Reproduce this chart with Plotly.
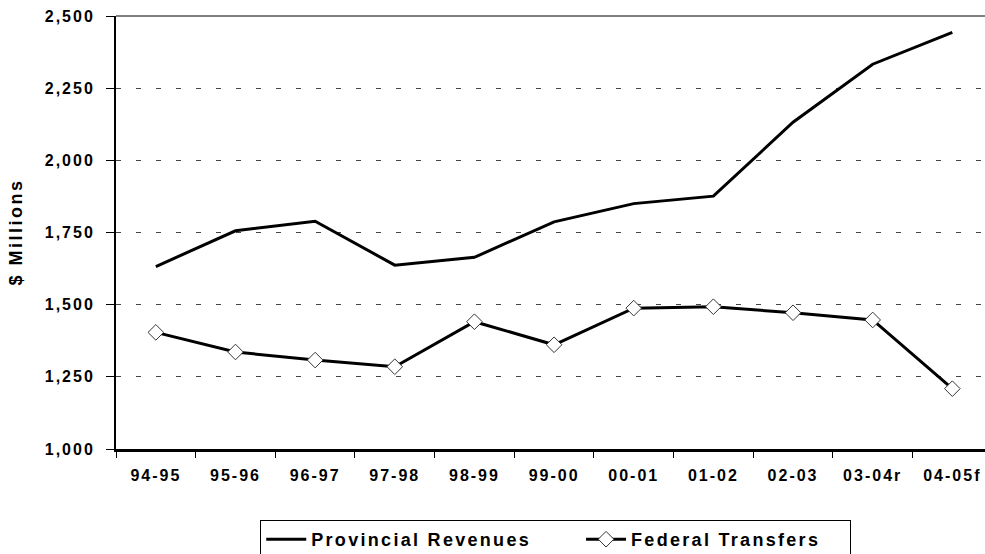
import plotly.graph_objects as go

# fiscal years on the x axis
years = ["94-95", "95-96", "96-97", "97-98", "98-99", "99-00",
         "00-01", "01-02", "02-03", "03-04r", "04-05f"]

# $ millions
provincial_revenues = [1632, 1756, 1789, 1637, 1664, 1787, 1850, 1876, 2132, 2333, 2443]
federal_transfers = [1404, 1336, 1308, 1285, 1441, 1361, 1488, 1493, 1472, 1447, 1209]

y_ticks = [1000, 1250, 1500, 1750, 2000, 2250, 2500]

FONT = "Liberation Sans, Arial, sans-serif"


def spaced(txt, px):
    # Excel-style expanded character spacing
    return '<span style="letter-spacing:%spx">%s</span>' % (px, txt)


fig = go.Figure()

# trailing no-break spaces give the wider gap between the two legend entries
fig.add_trace(go.Scatter(x=years, y=provincial_revenues, mode="lines",
                         name=spaced("Provincial Revenues", 2.3) + "&nbsp;" * 9,
                         line=dict(color="black", width=3)))

fig.add_trace(go.Scatter(x=years, y=federal_transfers, mode="lines+markers",
                         name=spaced("Federal Transfers", 2.3) + "&nbsp;" * 5,
                         line=dict(color="black", width=3),
                         marker=dict(symbol="diamond", size=12, color="white",
                                     line=dict(color="#333333", width=1))))

fig.update_layout(
    width=985, height=554,
    margin=dict(l=116, r=0, t=16, b=105, autoexpand=False),
    plot_bgcolor="white", paper_bgcolor="white",
    font=dict(family=FONT, size=16, color="black", weight="bold"),
    showlegend=True,
    legend=dict(orientation="h", x=0.166, y=-0.164, xanchor="left", yanchor="top",
                bordercolor="black", borderwidth=1, itemwidth=40,
                font=dict(size=18, weight="bold")),
    annotations=[dict(text=spaced("$ Millions", 2.5), xref="paper", yref="paper",
                      x=0, y=0.5, xanchor="center", yanchor="middle",
                      xshift=-101, textangle=-90, showarrow=False,
                      font=dict(size=18, weight="bold"))],
    shapes=[dict(type="line", xref="paper", yref="paper", x0=0, x1=1, y0=1, y1=1,
                 line=dict(color="black", width=1))],
)

fig.update_xaxes(
    type="category", range=[-0.5, 10.41], automargin=False,
    tickmode="array", tickvals=years, ticktext=[spaced(t, 2) for t in years],
    tickson="boundaries", ticks="outside", ticklen=6, tickcolor="black",
    showline=True, linecolor="black", linewidth=2.5,
    showgrid=False, ticklabelstandoff=10,
)

fig.update_yaxes(
    range=[1000, 2500], automargin=False,
    tickmode="array", tickvals=y_ticks,
    ticktext=[spaced(f"{v:,}", 2) for v in y_ticks],
    ticks="outside", ticklen=8, tickcolor="black",
    showline=True, linecolor="black", linewidth=2,
    showgrid=True, gridcolor="#444444", gridwidth=1, griddash="5px,15px",
    zeroline=False, ticklabelstandoff=8,
)

# drop the default page margin so the chart sits at the window origin
fig.write_html("out.html", config={"displayModeBar": False},
               post_script="document.body.style.margin='0';document.body.style.overflow='hidden';")
